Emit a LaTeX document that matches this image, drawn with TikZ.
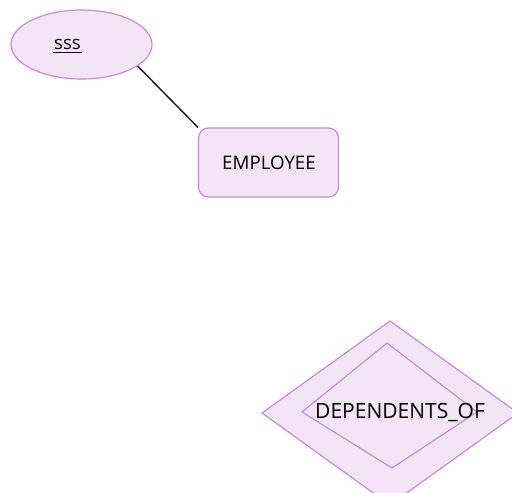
\documentclass[tikz,border=0pt]{standalone}
\usepackage{fontspec}
\setmainfont{Open Sans}
\usetikzlibrary{shapes.geometric,calc}
\definecolor{erfill}{HTML}{F3E5F5}
\definecolor{erline}{HTML}{C98AD8}
\definecolor{edge}{HTML}{222222}
\tikzset{
  attr/.style={ellipse, draw=erline, fill=erfill, line width=1.2pt, minimum width=141pt, minimum height=69pt, inner sep=0pt},
  entity/.style={rectangle, rounded corners=10pt, draw=erline, fill=erfill, line width=1.2pt, minimum width=140pt, minimum height=69pt, inner sep=0pt},
  rel/.style={draw=erline, fill=erfill, line width=1.2pt},
  lbl/.style={font=\fontsize{18.7}{22}\selectfont, text=black, inner sep=0pt},
  conn/.style={draw=edge, line width=1.5pt}
}
\begin{document}
\begin{tikzpicture}[x=1pt,y=-1pt]
\useasboundingbox (0,0) rectangle (512,493);
\clip (0,0) rectangle (512,493);
\node[attr] (sss) at (81.5,44.5) {};
\node[lbl] (ssstext) at (67.5,44) {sss};
\coordinate (ul1) at ($(ssstext.south west)+(-1,3)$);
\coordinate (ul2) at ($(ssstext.south east)+(1,3)$);
\draw[black, line width=1.4pt] (ul1) -- (ul2);
\node[entity] (emp) at (268.5,162.5) {};
\node[lbl] (emptext) at (269,163) {EMPLOYEE};
\coordinate (ot) at (390,321);
\coordinate (ol) at (262,413);
\coordinate (or) at (518,413);
\coordinate (ob) at (390,505);
\coordinate (it) at (387,343);
\coordinate (il) at (302,412);
\coordinate (ir) at (477,412);
\coordinate (ib) at (392,468);
\path[rel] (ot) -- (or) -- (ob) -- (ol) -- cycle;
\path[rel] (it) -- (ir) -- (ib) -- (il) -- cycle;
\node[lbl, font=\fontsize{21}{25}\selectfont, anchor=west] (reltext) at (315,412) {DEPENDENTS\_OF};
\draw[conn] (sss.-21) -- (emp.north west);
\end{tikzpicture}
\end{document}
